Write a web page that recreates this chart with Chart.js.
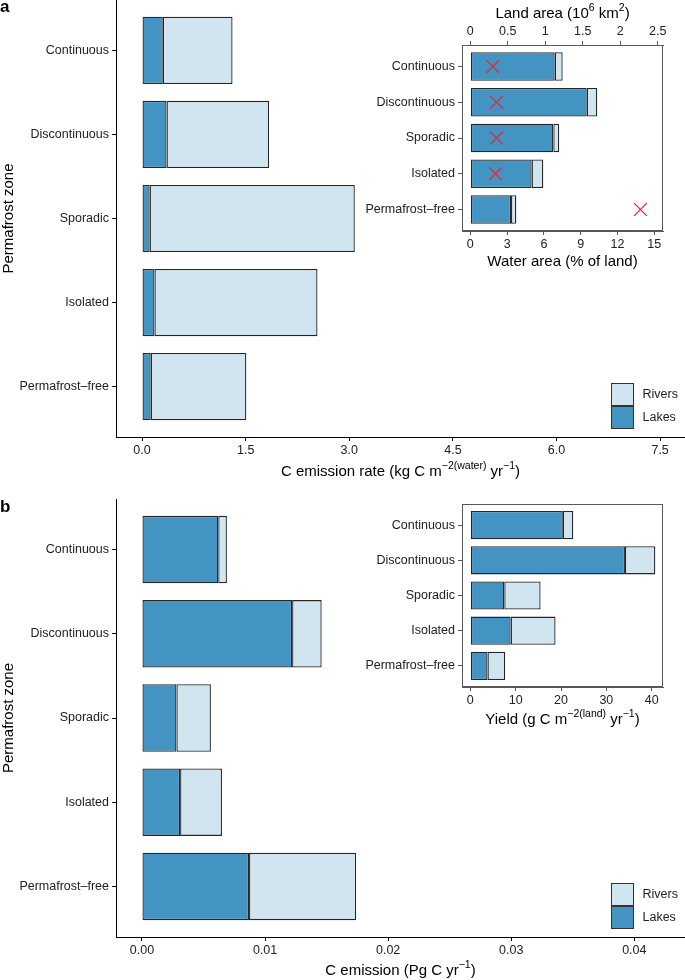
<!DOCTYPE html>
<html lang="en">
<head>
<meta charset="UTF-8" />
<title>Permafrost zone carbon emissions</title>
<style>
    body { margin: 0; background: #fff; }
    #wrap { position: relative; width: 685px; height: 980px; font-family: "Liberation Sans", Arial, sans-serif; }
    canvas { position: absolute; }
    .tag { position: absolute; left: 0; font-weight: bold; font-size: 17px; line-height: 20px; }
</style>
</head>
<body>
<div id="wrap">
    <canvas id="mainA" width="685" height="490" style="left:0;top:0"></canvas>
    <canvas id="insetA" width="315" height="275" style="left:360px;top:0"></canvas>
    <canvas id="mainB" width="685" height="490" style="left:0;top:490px"></canvas>
    <canvas id="insetB" width="315" height="250" style="left:360px;top:490px"></canvas>
    <div class="tag" style="top:-3px">a</div>
    <div class="tag" style="top:497px">b</div>
</div>

<script src="https://cdn.jsdelivr.net/npm/chart.js"></script>
<script>
    const zones = ['Continuous', 'Discontinuous', 'Sporadic', 'Isolated', 'Permafrost\u2013free'];

    // panel a: emission rate per water area (kg C m-2 yr-1)
    const rateLakes = [0.30, 0.355, 0.11, 0.18, 0.125];
    const rateRivers = [1.01, 1.485, 2.97, 2.36, 1.385];
    const rateTicks = [0, 1.5, 3, 4.5, 6, 7.5];

    // inset a: water area (% of land) and land area (10^6 km2)
    const waterLakes = [6.88, 9.49, 6.77, 5.0, 3.32];
    const waterRivers = [0.65, 0.86, 0.48, 0.95, 0.43];
    const waterTicks = [0, 3, 6, 9, 12, 15];
    const landArea = [0.30, 0.35, 0.35, 0.335, 2.27];
    const landTicks = [0, 0.5, 1, 1.5, 2, 2.5];

    // panel b: total emission (Pg C yr-1)
    const emisLakes = [0.0062, 0.0122, 0.0028, 0.0031, 0.0087];
    const emisRivers = [0.0007, 0.0024, 0.0028, 0.0034, 0.0087];
    const emisTicks = [0, 0.01, 0.02, 0.03, 0.04];

    // inset b: yield (g C m-2 land yr-1)
    const yieldLakes = [20.4, 34.1, 7.5, 8.9, 3.8];
    const yieldRivers = [2.3, 6.7, 8.0, 9.9, 3.9];
    const yieldTicks = [0, 10, 20, 30, 40];

    const FONT = '"Liberation Sans", Arial, sans-serif';
    const LAKE = '#4393c3';
    const RIVER = '#d1e5f0';
    Chart.defaults.font.family = FONT;
    Chart.defaults.font.size = 12.5;
    Chart.defaults.color = '#222';

    function rows(vals) {
        return vals.map((v, i) => ({x: v, y: i}));
    }

    function barSets(lakes, rivers) {
        const common = {borderColor: '#262626', borderWidth: 1.3, borderSkipped: false,
            barPercentage: 0.8, categoryPercentage: 1, xAxisID: 'x', yAxisID: 'y'};
        return [
            {...common, label: 'Lakes', data: rows(lakes), backgroundColor: LAKE},
            {...common, label: 'Rivers', data: rows(rivers), backgroundColor: RIVER}
        ];
    }

    // chart.js pads the plot for edge labels, we place it ourselves
    function noPad(s) {
        s.paddingTop = 0; s.paddingBottom = 0; s.paddingLeft = 0; s.paddingRight = 0;
    }

    function zoneAxis(width, title, line) {
        return {
            type: 'linear', min: -0.6, max: 4.6, reverse: true, stacked: true, offset: false,
            afterBuildTicks: s => { s.ticks = zones.map((z, i) => ({value: i})); },
            afterFit: s => { s.width = width; noPad(s); },
            ticks: {callback: v => zones[v], autoSkip: false, padding: 3},
            grid: {drawOnChartArea: false, offset: false, tickLength: 4, color: line},
            border: {color: line, width: 1},
            title: {display: !!title, text: title, font: {size: 15}, padding: 0, color: '#000'}
        };
    }

    function valueAxis(o) {
        return {
            type: 'linear', position: o.position, min: o.min, max: o.max, stacked: !!o.stacked,
            afterBuildTicks: s => { s.ticks = o.list.map(v => ({value: v})); },
            afterFit: s => { s.height = o.size; noPad(s); },
            ticks: {callback: o.fmt, autoSkip: false, maxRotation: 0, padding: 2},
            grid: {drawOnChartArea: false, tickLength: 4, color: o.line},
            border: {color: o.line, width: 1}
        };
    }

    // axis titles with superscripts
    function drawRich(ctx, parts, cx, cy, size) {
        const small = size * 0.7;
        let w = 0;
        parts.forEach(p => {
            ctx.font = (p.sup ? small : size) + 'px ' + FONT;
            w += ctx.measureText(p.t).width;
        });
        let x = cx - w / 2;
        ctx.textAlign = 'left';
        ctx.textBaseline = 'middle';
        ctx.fillStyle = '#000';
        parts.forEach(p => {
            ctx.font = (p.sup ? small : size) + 'px ' + FONT;
            ctx.fillText(p.t, x, p.sup ? cy - size * 0.36 : cy);
            x += ctx.measureText(p.t).width;
        });
    }

    function makeTitles(items) {
        return {
            id: 'axisTitles',
            afterDraw(chart) {
                const {ctx, chartArea} = chart;
                const cx = (chartArea.left + chartArea.right) / 2;
                ctx.save();
                items.forEach(it => {
                    const s = chart.scales[it.axis];
                    const cy = s.position === 'top' ? s.top + it.offset : s.bottom - it.offset;
                    drawRich(ctx, it.parts, cx, cy, 15);
                });
                ctx.restore();
            }
        };
    }

    function makeLegend(right, bottom, size) {
        return {
            id: 'boxLegend',
            afterDraw(chart) {
                const {ctx, chartArea} = chart;
                const sets = chart.data.datasets.slice().reverse();
                const x = Math.round(chartArea.right - right - size);
                let y = Math.round(chartArea.bottom - bottom - size * sets.length);
                ctx.save();
                sets.forEach(ds => {
                    ctx.fillStyle = ds.backgroundColor;
                    ctx.fillRect(x, y, size, size);
                    ctx.strokeStyle = '#333';
                    ctx.lineWidth = 1;
                    ctx.strokeRect(x + 0.5, y + 0.5, size - 1, size - 1);
                    ctx.fillStyle = '#222';
                    ctx.font = '12.5px ' + FONT;
                    ctx.textAlign = 'left';
                    ctx.textBaseline = 'middle';
                    ctx.fillText(ds.label, x + size + 8.5, y + size / 2);
                    y += size;
                });
                ctx.restore();
            }
        };
    }

    const frame = {
        id: 'frame',
        afterDraw(chart) {
            const {ctx, chartArea} = chart;
            const l = Math.round(chartArea.left) + 0.5, t = Math.round(chartArea.top) + 0.5;
            const r = Math.round(chartArea.right) - 0.5, b = Math.round(chartArea.bottom) - 0.5;
            ctx.save();
            ctx.strokeStyle = '#595959';
            ctx.lineWidth = 1;
            ctx.strokeRect(l, t, r - l, b - t);
            ctx.restore();
        }
    };

    function baseOptions(padding) {
        return {
            indexAxis: 'y', responsive: false, maintainAspectRatio: false, animation: false,
            devicePixelRatio: 1, events: [], layout: {padding: padding},
            plugins: {legend: {display: false}, tooltip: {enabled: false}}
        };
    }

    // panel a
    new Chart(document.getElementById('mainA'), {
        type: 'bar',
        data: {datasets: barSets(rateLakes, rateRivers)},
        options: {
            ...baseOptions(0),
            scales: {
                x: valueAxis({position: 'bottom', min: -0.377, max: 7.86, list: rateTicks,
                    fmt: v => v.toFixed(1), size: 53, line: '#000', stacked: true}),
                y: zoneAxis(116, 'Permafrost zone', '#000')
            }
        },
        plugins: [
            makeTitles([{axis: 'x', offset: 18.3, parts: [
                {t: 'C emission rate (kg C m'}, {t: '\u22122(water)', sup: true},
                {t: ' yr'}, {t: '\u22121', sup: true}, {t: ')'}]}]),
            makeLegend(51, 8, 23)
        ]
    });

    // inset a
    const insetASets = barSets(waterLakes, waterRivers);
    insetASets.push({
        type: 'scatter', label: 'Land area', data: rows(landArea), order: -1,
        xAxisID: 'x2', yAxisID: 'y', indexAxis: 'y',
        pointStyle: 'crossRot', pointRadius: 9, borderColor: '#e8242a',
        backgroundColor: 'rgba(0,0,0,0)', borderWidth: 1.2
    });
    new Chart(document.getElementById('insetA'), {
        type: 'bar',
        data: {datasets: insetASets},
        options: {
            ...baseOptions({top: 0, right: 12, bottom: 0, left: 0}),
            scales: {
                x: valueAxis({position: 'bottom', min: -0.677, max: 15.71, list: waterTicks,
                    fmt: v => String(v), size: 44, line: '#595959', stacked: true}),
                x2: valueAxis({position: 'top', min: -0.111, max: 2.571, list: landTicks,
                    fmt: v => String(v), size: 45, line: '#595959'}),
                y: zoneAxis(102, '', '#595959')
            }
        },
        plugins: [
            frame,
            makeTitles([
                {axis: 'x2', offset: 14, parts: [{t: 'Land area (10'}, {t: '6', sup: true},
                    {t: ' km'}, {t: '2', sup: true}, {t: ')'}]},
                {axis: 'x', offset: 12.7, parts: [{t: 'Water area (% of land)'}]}
            ])
        ]
    });

    // panel b
    new Chart(document.getElementById('mainB'), {
        type: 'bar',
        data: {datasets: barSets(emisLakes, emisRivers)},
        options: {
            ...baseOptions({top: 9, right: 0, bottom: 0, left: 0}),
            scales: {
                x: valueAxis({position: 'bottom', min: -0.00211, max: 0.04412, list: emisTicks,
                    fmt: v => v.toFixed(2), size: 43, line: '#000', stacked: true}),
                y: zoneAxis(116, 'Permafrost zone', '#000')
            }
        },
        plugins: [
            makeTitles([{axis: 'x', offset: 9.3, parts: [
                {t: 'C emission (Pg C yr'}, {t: '\u22121', sup: true}, {t: ')'}]}]),
            makeLegend(51, 8, 23)
        ]
    });

    // inset b
    new Chart(document.getElementById('insetB'), {
        type: 'bar',
        data: {datasets: barSets(yieldLakes, yieldRivers)},
        options: {
            ...baseOptions({top: 14, right: 12, bottom: 0, left: 0}),
            scales: {
                x: valueAxis({position: 'bottom', min: -1.83, max: 42.49, list: yieldTicks,
                    fmt: v => String(v), size: 53, line: '#595959', stacked: true}),
                y: zoneAxis(102, '', '#595959')
            }
        },
        plugins: [
            frame,
            makeTitles([{axis: 'x', offset: 20, parts: [
                {t: 'Yield (g C m'}, {t: '\u22122(land)', sup: true},
                {t: ' yr'}, {t: '\u22121', sup: true}, {t: ')'}]}])
        ]
    });
</script>
</body>
</html>
